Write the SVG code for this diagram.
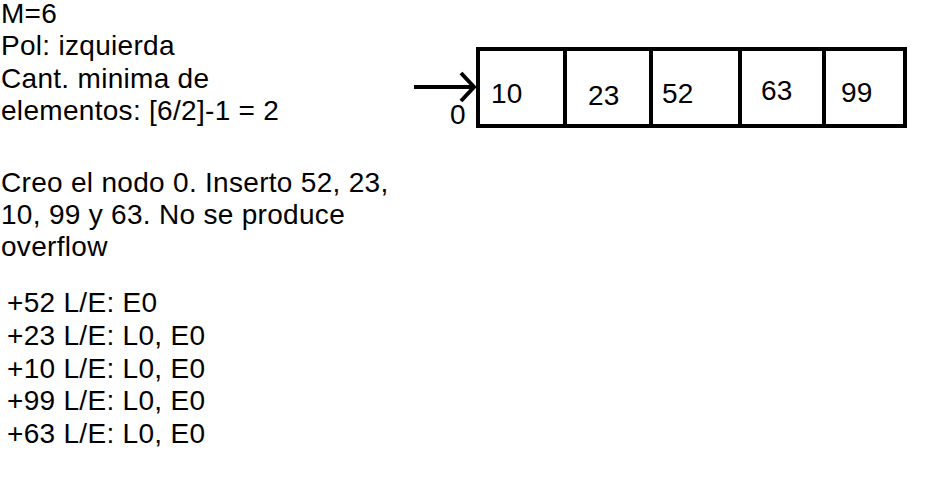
<svg xmlns="http://www.w3.org/2000/svg" width="952" height="504" viewBox="0 0 952 504">
<style>
text{font-family:"Liberation Sans",Arial,sans-serif;font-size:28px;fill:#000;letter-spacing:0.3px}
.box{fill:#fff;stroke:#000;stroke-width:4}
.ln{stroke:#000;stroke-width:4;fill:none}
</style>
<rect width="952" height="504" fill="#fff"/>
<g id="notes">
<text x="1" y="23">M=6</text>
<text x="1" y="55">Pol: izquierda</text>
<text x="1" y="88">Cant. minima de</text>
<text x="1" y="120">elementos: [6/2]-1 = 2</text>
<text x="1" y="192">Creo el nodo 0. Inserto 52, 23,</text>
<text x="1" y="224">10, 99 y 63. No se produce</text>
<text x="1" y="256">overflow</text>
<text x="7" y="312">+52 L/E: E0</text>
<text x="7" y="345">+23 L/E: L0, E0</text>
<text x="7" y="378">+10 L/E: L0, E0</text>
<text x="7" y="410">+99 L/E: L0, E0</text>
<text x="7" y="443">+63 L/E: L0, E0</text>
</g>
<g id="node0">
<rect class="box" x="478" y="49" width="427" height="77"/>
<line class="ln" x1="565" y1="49" x2="565" y2="126"/>
<line class="ln" x1="651" y1="49" x2="651" y2="126"/>
<line class="ln" x1="740" y1="49" x2="740" y2="126"/>
<line class="ln" x1="824" y1="49" x2="824" y2="126"/>
<text x="491" y="103">10</text>
<text x="588" y="105">23</text>
<text x="662" y="103">52</text>
<text x="761" y="100">63</text>
<text x="841" y="102">99</text>
<text x="450" y="124">0</text>
</g>
<g id="connectors">
<line class="ln" x1="414" y1="87" x2="473" y2="87"/>
<polyline class="ln" points="461,73 474,87 461,101"/>
</g>
</svg>
